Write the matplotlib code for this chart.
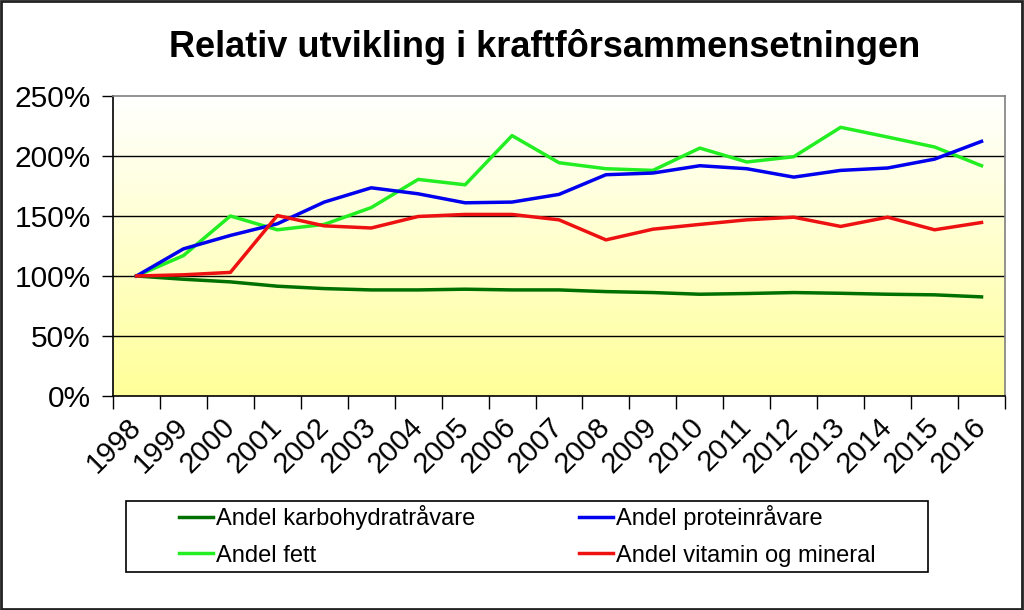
import matplotlib.pyplot as plt
import matplotlib.patches as patches
from matplotlib.colors import LinearSegmentedColormap
import numpy as np

# Years on the category axis
years = [str(y) for y in range(1998, 2017)]

# Relative values in percent
karbohydrat = [100, 97.3, 95.1, 91.5, 89.5, 88.4, 88.4, 89.0, 88.4, 88.4,
               87.0, 86.2, 84.8, 85.4, 86.2, 85.6, 84.8, 84.3, 82.6]
protein = [100, 122.6, 133.8, 143.5, 161.6, 173.5, 168.5, 161.0, 161.6, 168.0,
           184.4, 185.8, 191.9, 189.4, 182.4, 188.0, 190.0, 197.4, 212.2]
fett = [100, 117.0, 150.0, 138.5, 143.0, 157.0, 180.5, 176.0, 217.0, 194.4,
        189.4, 188.0, 206.6, 195.0, 199.4, 223.9, 215.8, 207.5, 191.9]
vitamin = [100, 101.0, 103.0, 150.4, 141.8, 140.0, 149.6, 151.3, 151.3, 146.8,
           130.1, 139.0, 143.0, 146.8, 149.0, 141.3, 149.0, 138.5, 144.6]

yticks = [0, 50, 100, 150, 200, 250]

plt.rcParams['font.family'] = ['Liberation Sans', 'DejaVu Sans']

fig = plt.figure(figsize=(10.24, 6.10), dpi=100)
ax = fig.add_axes([113 / 1024, 1 - 396 / 610, 892 / 1024, 300 / 610])

x = np.arange(len(years))

# white-to-yellow gradient behind the lines
grad = np.linspace(0, 1, 256).reshape(-1, 1)
cmap = LinearSegmentedColormap.from_list('wy', ['#FFFF99', '#FFFFFF'])
ax.imshow(grad, aspect='auto', cmap=cmap, origin='lower',
          extent=[-0.5, len(years) - 0.5, 0, 250], zorder=0)

for yv in yticks[1:-1]:
    ax.axhline(yv, color='black', lw=1.0, zorder=1)

ax.plot(x, karbohydrat, color='#007000', lw=2.5, label='Andel karbohydratråvare', zorder=3)
ax.plot(x, fett, color='#22EE22', lw=2.5, label='Andel fett', zorder=4)
ax.plot(x, protein, color='#0000EE', lw=2.5, label='Andel proteinråvare', zorder=5)
ax.plot(x, vitamin, color='#EE1111', lw=2.5, label='Andel vitamin og mineral', zorder=6)

ax.set_xlim(-0.5, len(years) - 0.5)
ax.set_ylim(0, 250)

ax.set_yticks(yticks)
ax.set_yticklabels([f'{v}%' for v in yticks], fontsize=21.5)
ax.tick_params(axis='y', direction='out', length=8, width=1, pad=8)

ax.set_xticks(x)
ax.set_xticklabels(years, fontsize=21, rotation=45, ha='right',
                   rotation_mode='anchor', va='center')
ax.tick_params(axis='x', which='major', length=0, pad=19)
ax.set_xticks(np.arange(-0.5, len(years)), minor=True)
ax.tick_params(axis='x', which='minor', direction='out', length=9, width=1)

ax.spines['left'].set_color('black')
ax.spines['bottom'].set_color('black')
ax.spines['top'].set_color('#808080')
ax.spines['right'].set_color('#808080')
for s in ax.spines.values():
    s.set_linewidth(1.2)

fig.text(545 / 1024, 1 - 47 / 610, 'Relativ utvikling i kraftfôrsammensetningen',
         ha='center', va='center', fontsize=26, fontweight='bold')

# legend box
fig.patches.append(patches.Rectangle((126 / 1024, 1 - 572 / 610), 802 / 1024, 71 / 610,
                                     transform=fig.transFigure, fill=False,
                                     edgecolor='black', lw=1.2))
h, l = ax.get_legend_handles_labels()
fig.legend(h, l, ncol=2,
           loc='upper left', bbox_to_anchor=(179 / 1024, 1 - 505 / 610),
           frameon=False, fontsize=17, handlelength=1.45, handletextpad=0.12,
           columnspacing=4.4, labelspacing=0.62, borderpad=0, borderaxespad=0)

# outer border
fig.patches.append(patches.Rectangle((0.001, 0.002), 0.997, 0.996,
                                     transform=fig.transFigure, fill=False,
                                     edgecolor='#222222', lw=2))

fig.savefig('out.png', dpi=100)
